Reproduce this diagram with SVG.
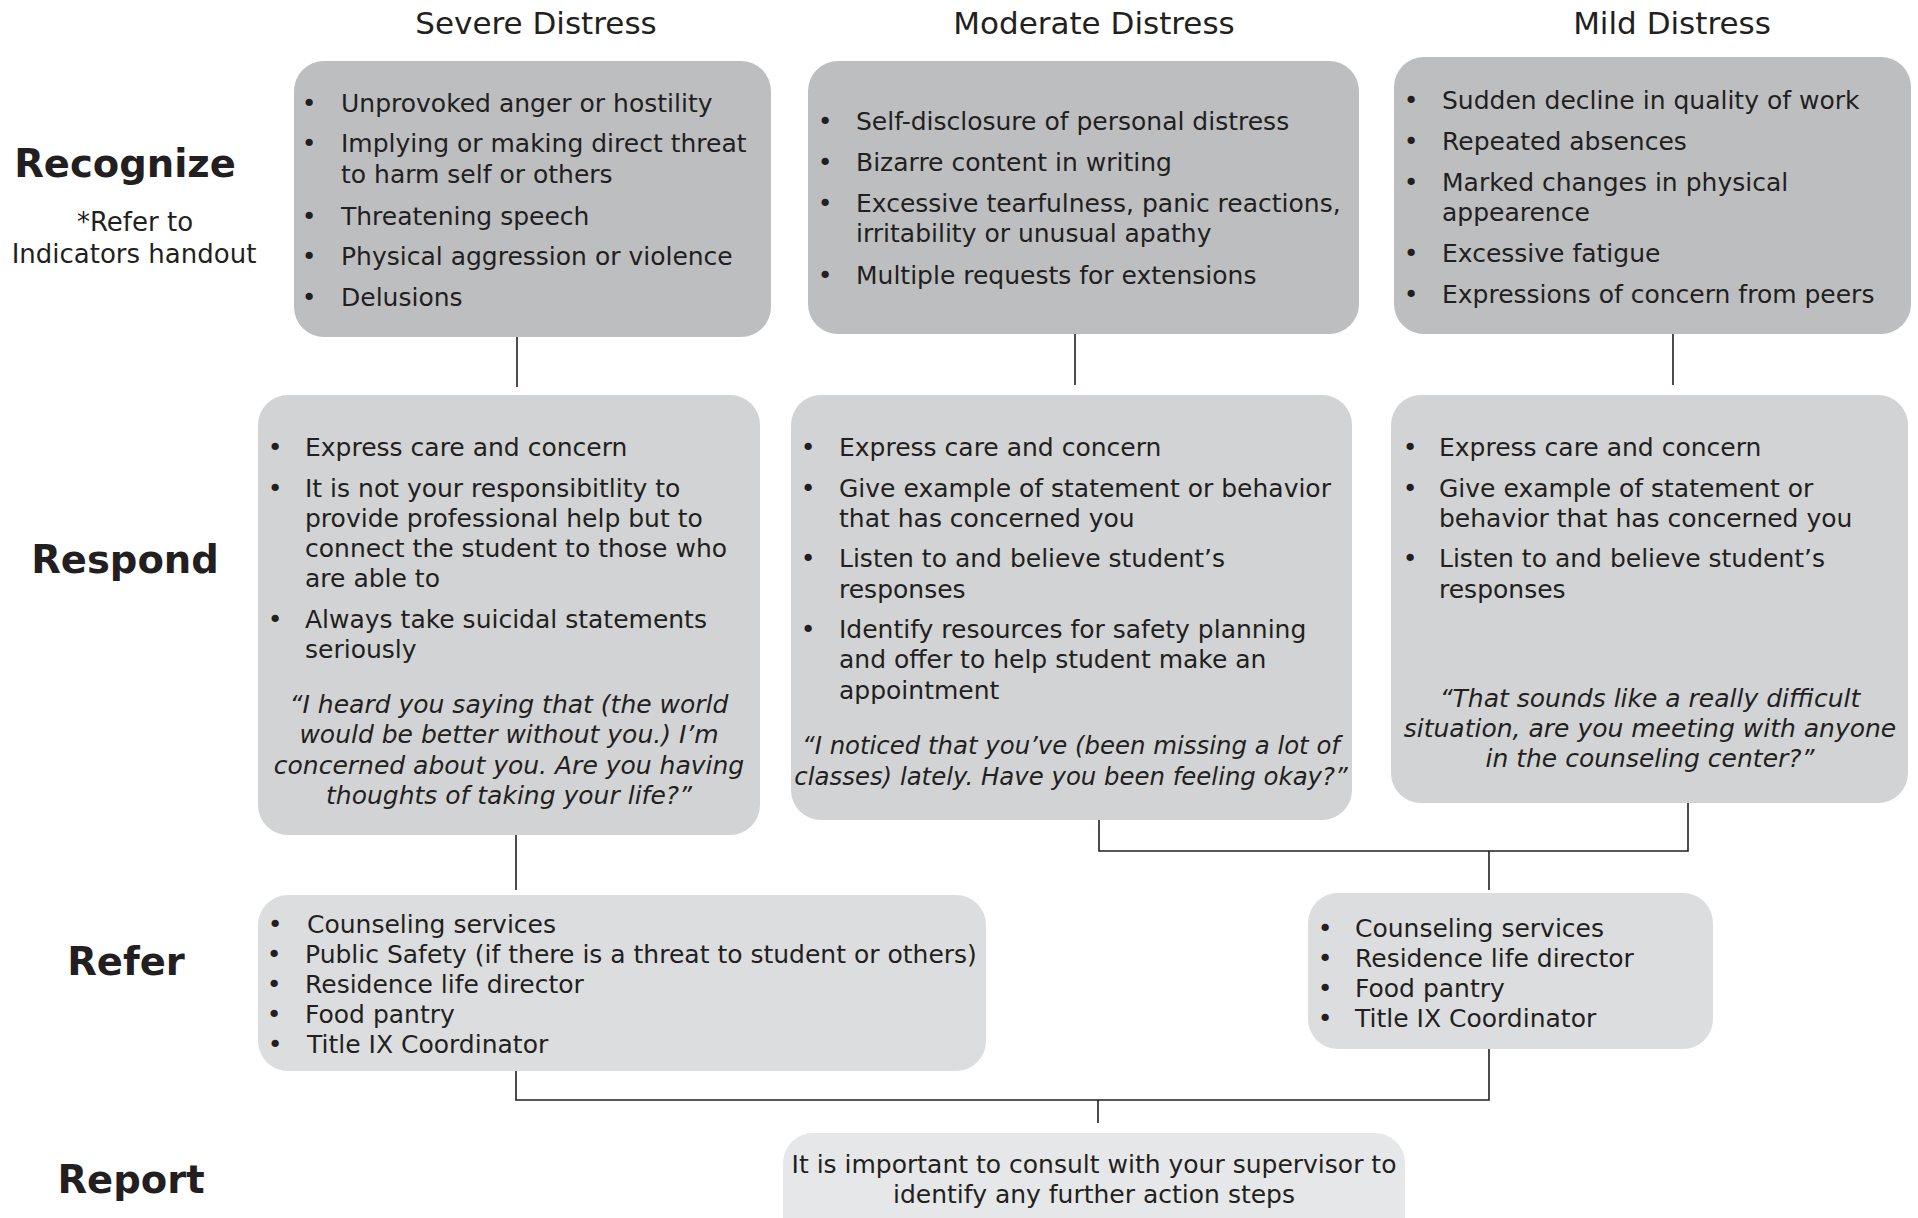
<svg xmlns="http://www.w3.org/2000/svg" width="1918" height="1218" viewBox="0 0 1918 1218">
  <style>
    text { font-family: "DejaVu Sans", "Liberation Sans", sans-serif; fill: #231f20; }
    .hdr { font-size: 31px; text-anchor: middle; }
    .lbl { font-size: 38.5px; font-weight: bold; text-anchor: middle; }
    .note { font-size: 26px; text-anchor: middle; }
    .t { font-size: 25px; }
    .bul { font-size: 25px; text-anchor: middle; }
    .q { font-size: 25px; font-style: italic; text-anchor: middle; }
    .q.tight { font-size: 24.4px; }
    .c { font-size: 25px; text-anchor: middle; }
    .rec { fill: #bcbec0; }
    .res { fill: #d1d3d4; }
    .ref { fill: #dcdddf; }
    .rep { fill: #e6e7e8; }
    .conn { stroke: #231f20; stroke-width: 1.6; fill: none; }
  </style>

  <rect width="1918" height="1218" fill="#ffffff"/>

  <!-- column headings -->
  <g id="headings">
    <text class="hdr" x="536" y="34">Severe Distress</text>
    <text class="hdr" x="1094" y="34">Moderate Distress</text>
    <text class="hdr" x="1672" y="34">Mild Distress</text>
  </g>

  <!-- row labels -->
  <g id="labels">
    <text class="lbl" x="125" y="177">Recognize</text>
    <text class="note" x="135" y="231">*Refer to</text>
    <text class="note" x="134" y="263">Indicators handout</text>
    <text class="lbl" x="125" y="573">Respond</text>
    <text class="lbl" x="126" y="975">Refer</text>
    <text class="lbl" x="131" y="1193">Report</text>
  </g>

  <!-- connectors -->
  <g id="connectors">
    <path class="conn" d="M517 337 V387"/>
    <path class="conn" d="M1075 334 V385"/>
    <path class="conn" d="M1673 334 V385"/>
    <path class="conn" d="M516 835 V890"/>
    <path class="conn" d="M1099 820 V851 H1688 V803"/>
    <path class="conn" d="M1489 851 V890"/>
    <path class="conn" d="M516 1071 V1100 H1489 V1049"/>
    <path class="conn" d="M1098 1100 V1123"/>
  </g>

  <!-- Recognize: severe -->
  <g id="recognize-severe">
    <rect class="rec" x="294" y="61" width="477" height="276" rx="30"/>
    <text class="bul" x="309" y="112">•</text>
    <text class="t" x="341" y="112">Unprovoked anger or hostility</text>
    <text class="bul" x="309" y="152">•</text>
    <text class="t" x="341" y="152">Implying or making direct threat</text>
    <text class="t" x="341" y="183">to harm self or others</text>
    <text class="bul" x="309" y="225">•</text>
    <text class="t" x="341" y="225">Threatening speech</text>
    <text class="bul" x="309" y="265">•</text>
    <text class="t" x="341" y="265">Physical aggression or violence</text>
    <text class="bul" x="309" y="306">•</text>
    <text class="t" x="341" y="306">Delusions</text>
  </g>

  <!-- Recognize: moderate -->
  <g id="recognize-moderate">
    <rect class="rec" x="808" y="61" width="551" height="273" rx="30"/>
    <text class="bul" x="825" y="130">•</text>
    <text class="t" x="856" y="130">Self-disclosure of personal distress</text>
    <text class="bul" x="825" y="171">•</text>
    <text class="t" x="856" y="171">Bizarre content in writing</text>
    <text class="bul" x="825" y="212">•</text>
    <text class="t" x="856" y="212">Excessive tearfulness, panic reactions,</text>
    <text class="t" x="856" y="242">irritability or unusual apathy</text>
    <text class="bul" x="825" y="284">•</text>
    <text class="t" x="856" y="284">Multiple requests for extensions</text>
  </g>

  <!-- Recognize: mild -->
  <g id="recognize-mild">
    <rect class="rec" x="1394" y="57" width="517" height="277" rx="30"/>
    <text class="bul" x="1411" y="109">•</text>
    <text class="t" x="1442" y="109">Sudden decline in quality of work</text>
    <text class="bul" x="1411" y="150">•</text>
    <text class="t" x="1442" y="150">Repeated absences</text>
    <text class="bul" x="1411" y="191">•</text>
    <text class="t" x="1442" y="191">Marked changes in physical</text>
    <text class="t" x="1442" y="221">appearence</text>
    <text class="bul" x="1411" y="262">•</text>
    <text class="t" x="1442" y="262">Excessive fatigue</text>
    <text class="bul" x="1411" y="303">•</text>
    <text class="t" x="1442" y="303">Expressions of concern from peers</text>
  </g>

  <!-- Respond: severe -->
  <g id="respond-severe">
    <rect class="res" x="258" y="395" width="502" height="440" rx="30"/>
    <text class="bul" x="275" y="456">•</text>
    <text class="t" x="305" y="456">Express care and concern</text>
    <text class="bul" x="275" y="497">•</text>
    <text class="t" x="305" y="497">It is not your responsibitlity to</text>
    <text class="t" x="305" y="527">provide professional help but to</text>
    <text class="t" x="305" y="557">connect the student to those who</text>
    <text class="t" x="305" y="587">are able to</text>
    <text class="bul" x="275" y="628">•</text>
    <text class="t" x="305" y="628">Always take suicidal statements</text>
    <text class="t" x="305" y="658">seriously</text>
    <text class="q" x="509" y="713">“I heard you saying that (the world</text>
    <text class="q" x="509" y="743">would be better without you.) I’m</text>
    <text class="q" x="509" y="774">concerned about you. Are you having</text>
    <text class="q" x="509" y="804">thoughts of taking your life?”</text>
  </g>

  <!-- Respond: moderate -->
  <g id="respond-moderate">
    <rect class="res" x="791" y="395" width="561" height="425" rx="30"/>
    <text class="bul" x="808" y="456">•</text>
    <text class="t" x="839" y="456">Express care and concern</text>
    <text class="bul" x="808" y="497">•</text>
    <text class="t" x="839" y="497">Give example of statement or behavior</text>
    <text class="t" x="839" y="527">that has concerned you</text>
    <text class="bul" x="808" y="567">•</text>
    <text class="t" x="839" y="567">Listen to and believe student’s</text>
    <text class="t" x="839" y="598">responses</text>
    <text class="bul" x="808" y="638">•</text>
    <text class="t" x="839" y="638">Identify resources for safety planning</text>
    <text class="t" x="839" y="668">and offer to help student make an</text>
    <text class="t" x="839" y="699">appointment</text>
    <text class="q tight" x="1071" y="754">“I noticed that you’ve (been missing a lot of</text>
    <text class="q tight" x="1071" y="785">classes) lately. Have you been feeling okay?”</text>
  </g>

  <!-- Respond: mild -->
  <g id="respond-mild">
    <rect class="res" x="1391" y="395" width="517" height="408" rx="30"/>
    <text class="bul" x="1410" y="456">•</text>
    <text class="t" x="1439" y="456">Express care and concern</text>
    <text class="bul" x="1410" y="497">•</text>
    <text class="t" x="1439" y="497">Give example of statement or</text>
    <text class="t" x="1439" y="527">behavior that has concerned you</text>
    <text class="bul" x="1410" y="567">•</text>
    <text class="t" x="1439" y="567">Listen to and believe student’s</text>
    <text class="t" x="1439" y="598">responses</text>
    <text class="q" x="1650" y="707">“That sounds like a really difficult</text>
    <text class="q" x="1650" y="737">situation, are you meeting with anyone</text>
    <text class="q" x="1650" y="767">in the counseling center?”</text>
  </g>

  <!-- Refer: severe -->
  <g id="refer-severe">
    <rect class="ref" x="258" y="895" width="728" height="176" rx="30"/>
    <text class="bul" x="275" y="933">•</text>
    <text class="t" x="307" y="933">Counseling services</text>
    <text class="bul" x="274" y="963">•</text>
    <text class="t" x="305" y="963">Public Safety (if there is a threat to student or others)</text>
    <text class="bul" x="274" y="993">•</text>
    <text class="t" x="305" y="993">Residence life director</text>
    <text class="bul" x="274" y="1023">•</text>
    <text class="t" x="305" y="1023">Food pantry</text>
    <text class="bul" x="275" y="1053">•</text>
    <text class="t" x="307" y="1053">Title IX Coordinator</text>
  </g>

  <!-- Refer: moderate and mild -->
  <g id="refer-mild">
    <rect class="ref" x="1308" y="893" width="405" height="156" rx="30"/>
    <text class="bul" x="1325" y="937">•</text>
    <text class="t" x="1355" y="937">Counseling services</text>
    <text class="bul" x="1325" y="967">•</text>
    <text class="t" x="1355" y="967">Residence life director</text>
    <text class="bul" x="1325" y="997">•</text>
    <text class="t" x="1355" y="997">Food pantry</text>
    <text class="bul" x="1325" y="1027">•</text>
    <text class="t" x="1355" y="1027">Title IX Coordinator</text>
  </g>

  <!-- Report -->
  <g id="report">
    <rect class="rep" x="783" y="1133" width="622" height="120" rx="30"/>
    <text class="c" x="1094" y="1173">It is important to consult with your supervisor to</text>
    <text class="c" x="1094" y="1203">identify any further action steps</text>
  </g>
</svg>
